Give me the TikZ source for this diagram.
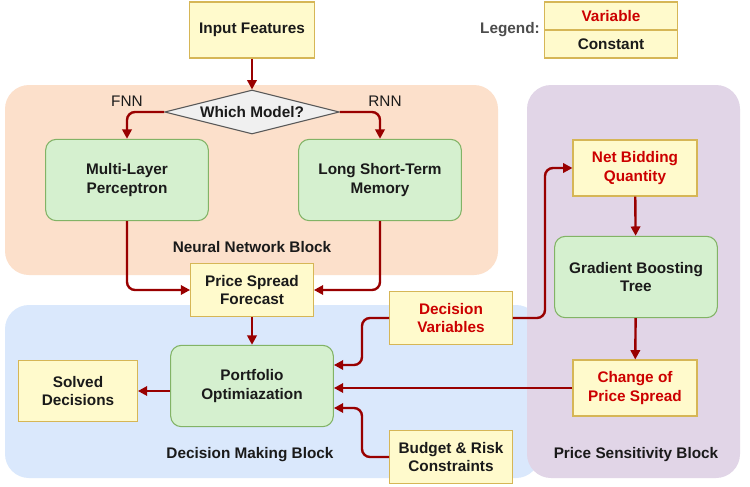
\documentclass[tikz,border=0pt]{standalone}
\usepackage{fontspec}
\setmainfont{Liberation Sans}
\usetikzlibrary{shapes.geometric,arrows.meta}
\definecolor{yfill}{HTML}{FFFACC}\definecolor{ydraw}{HTML}{D6B656}
\definecolor{gfill}{HTML}{D5F0CF}\definecolor{gdraw}{HTML}{82B366}
\definecolor{ofill}{HTML}{FCE0CB}\definecolor{bfill}{HTML}{DAE8FC}
\definecolor{pfill}{HTML}{E1D5E7}\definecolor{arr}{HTML}{990000}
\definecolor{redtxt}{HTML}{CC0000}\definecolor{txt}{HTML}{1A1A1A}
\begin{document}
\begin{tikzpicture}[x=0.75pt,y=-0.75pt,font=\bfseries\fontsize{11.5}{14}\selectfont,text=txt,
 ybox/.style={draw=ydraw,fill=yfill,line width=0.8pt,align=center,inner sep=0pt},
 gbox/.style={draw=gdraw,fill=gfill,line width=0.8pt,rounded corners=8pt,align=center,inner sep=0pt,minimum width=122pt,minimum height=61pt},
 var/.style={text=redtxt},
 blk/.style={rounded corners=18pt,draw=none},
 con/.style={draw=arr,line width=1.8pt,rounded corners=6pt,-{Triangle[length=7pt,width=7pt]}}]
\useasboundingbox (0,0) rectangle (750,486);
\fill[white] (0,0) rectangle (750,486);
\fill[ofill,blk] (5,85) rectangle (498,275);
\fill[bfill,blk] (5,305) rectangle (540,478);
\fill[pfill,blk] (527,85) rectangle (740,478);
\node[ybox,minimum width=94pt,minimum height=42pt] (in) at (252,30) {Input Features};
\node at (510,30) (leg) {\textcolor{black!70}{Legend:}};
\node[ybox,var,minimum width=100pt,minimum height=21pt] (lv) at (611,16) {Variable};
\node[ybox,minimum width=100pt,minimum height=21pt] (lc) at (611,44) {Constant};
\node[diamond,aspect=4,draw=gray!70!black,fill=gray!12,line width=0.8pt,inner sep=1pt,minimum width=131pt,minimum height=33pt] (dm) at (252,112) {Which Model?};
\node (fnn) at (127,101) {\mdseries FNN};
\node (rnn) at (385,101) {\mdseries RNN};
\node[gbox] (mlp) at (127,180) {Multi-Layer\\Perceptron};
\node[gbox] (lstm) at (380,180) {Long Short-Term\\Memory};
\node (nnb) at (252,247) {Neural Network Block};
\node[ybox,minimum width=92pt,minimum height=40pt] (psf) at (252,290) {Price Spread\\Forecast};
\node[gbox] (po) at (252,386) {Portfolio\\Optimiazation};
\node[ybox,minimum width=89pt,minimum height=46pt] (sd) at (78,391) {Solved\\Decisions};
\node (dmb) at (250,455) {Decision Making Block};
\node[ybox,var,minimum width=92pt,minimum height=40pt] (dv) at (451,318) {Decision\\Variables};
\node[ybox,minimum width=92pt,minimum height=40pt] (br) at (451,457) {Budget \& Risk\\Constraints};
\node[ybox,var,minimum width=93pt,minimum height=42pt] (nbq) at (635,168) {Net Bidding\\Quantity};
\node[gbox] (gbt) at (636,277) {Gradient Boosting\\Tree};
\node[ybox,var,minimum width=93pt,minimum height=42pt] (cps) at (635,388) {Change of\\Price Spread};
\node (psb) at (636,455) {Price Sensitivity Block};
\draw[con] (in) -- (dm);
\draw[con] (dm.west) -| (mlp.north);
\draw[con] (dm.east) -| (lstm.north);
\draw[con] (mlp.south) |- (psf.west);
\draw[con] (lstm.south) |- (psf.east);
\draw[con] (psf) -- (po);
\draw[con] (po.west |- sd.east) -- (sd.east);
\draw[con] (dv.west) -- (362,318) -- (362,365) -- (po.east |- 0,365);
\draw[con] (dv.east) -- (545,318) -- (545,168) -- (nbq.west);
\draw[con] (nbq) -- (gbt);
\draw[con] (gbt) -- (cps);
\draw[con] (cps.west) -- (po.east |- cps.west);
\draw[con] (br.west) -- (362,457) -- (362,408) -- (po.east |- 0,408);
\end{tikzpicture}
\end{document}
